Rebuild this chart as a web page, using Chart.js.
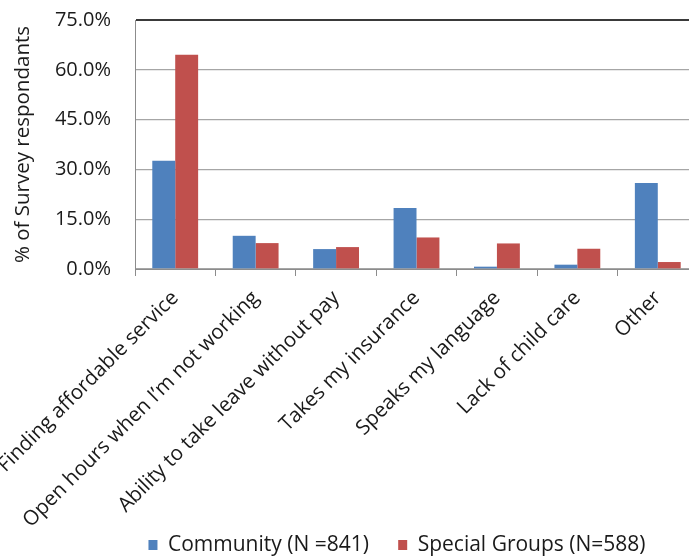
<!DOCTYPE html>
<html>
<head>
<meta charset="utf-8">
<script src="https://cdn.jsdelivr.net/npm/chart.js@4"></script>
<style>
  html, body { margin: 0; padding: 0; background: #fff; overflow: hidden; }
  #wrap { width: 794px; height: 558px; }
</style>
</head>
<body>
<div id="wrap"><canvas id="chart" width="794" height="558"></canvas></div>
<script>
'use strict';

// ── Data ──────────────────────────────────────────────────────────────────────
var categories = [
  'Finding affordable service',
  'Open hours when I\u2019m not working',
  'Ability to take leave without pay',
  'Takes my insurance',
  'Speaks my language',
  'Lack of child care',
  'Other'
];
var communityVals = [32.6, 10.0, 6.0, 18.4, 0.7, 1.3, 25.9];
var specialVals   = [64.5, 7.8, 6.6, 9.5, 7.7, 6.1, 2.1];
var seriesLabels  = ['Community (N =841)', 'Special Groups (N=588)'];
var yTicks        = [0, 15, 30, 45, 60, 75];

var FONT = '"Open Sans", Lato, sans-serif';
var TEXT = '#1a1a1a';
var PLOT_TOP = 20;
var PLOT_BOTTOM = 269;
var PLOT_LEFT = 135;
var RIGHT_GAP = 96;     // plot ends at x≈698, past the visible 689px
var BOTTOM_PAD = -7.5;  // pulls the legend down so the x labels get more room

// ── Chart ─────────────────────────────────────────────────────────────────────
new Chart(document.getElementById('chart').getContext('2d'), {
  type: 'bar',
  data: {
    labels: categories,
    datasets: [{
      label: seriesLabels[0],
      data: communityVals,
      backgroundColor: '#4f81bd',
      borderWidth: 0
    }, {
      label: seriesLabels[1],
      data: specialVals,
      backgroundColor: '#c0504d',
      borderWidth: 0
    }]
  },
  options: {
    responsive: false,
    animation: false,
    layout: { padding: { left: 0, right: 0, top: PLOT_TOP, bottom: BOTTOM_PAD } },
    datasets: { bar: { categoryPercentage: 0.57, barPercentage: 1.0 } },
    plugins: {
      tooltip: { enabled: false },
      legend: {
        position: 'bottom',
        labels: {
          color: TEXT,
          font: { family: FONT, size: 21 },
          boxWidth: 9,
          boxHeight: 10,
          padding: 2,
          // small padding keeps the legend box low; widen the gap between items with spaces
          generateLabels: function (chart) {
            var items = Chart.defaults.plugins.legend.labels.generateLabels(chart);
            for (var i = 0; i < items.length - 1; i++) items[i].text += '     ';
            return items;
          }
        }
      }
    },
    scales: {
      x: {
        grid: {
          drawOnChartArea: false,
          drawTicks: true,
          tickLength: 7,
          color: '#8c8c8c'
        },
        border: { color: '#8c8c8c', width: 1 },
        ticks: {
          color: TEXT,
          font: { family: FONT, size: 20.5 },
          minRotation: 45,
          maxRotation: 45,
          autoSkip: false,
          padding: 10
        },
        afterFit: function (scale) {
          scale.paddingLeft = 0;
          scale.paddingRight = RIGHT_GAP;
          var lg = scale.chart.legend ? scale.chart.legend.height : 0;
          scale.height = scale.chart.height - BOTTOM_PAD - PLOT_BOTTOM - lg;
        }
      },
      y: {
        min: 0,
        max: 75,
        afterBuildTicks: function (scale) {
          scale.ticks = yTicks.map(function (v) { return { value: v }; });
        },
        afterFit: function (scale) {
          scale.width = PLOT_LEFT;
          scale.paddingTop = 0;
          scale.paddingBottom = 0;
        },
        grid: {
          drawTicks: false,
          color: function (ctx) {
            return ctx.tick && ctx.tick.value === 75 ? '#3a3a3a' : '#a6a6a6';
          },
          lineWidth: function (ctx) {
            return ctx.tick && ctx.tick.value === 75 ? 2 : 1.3;
          }
        },
        border: { color: '#8c8c8c', width: 1 },
        ticks: {
          color: TEXT,
          font: { family: FONT, size: 20 },
          padding: 24,
          callback: function (v) { return v.toFixed(1) + '%'; }
        },
        title: {
          display: true,
          text: '% of Survey respondants',
          color: TEXT,
          font: { family: FONT, size: 20.5 },
          padding: { top: 11, bottom: 0 }
        }
      }
    }
  }
});
</script>
</body>
</html>
